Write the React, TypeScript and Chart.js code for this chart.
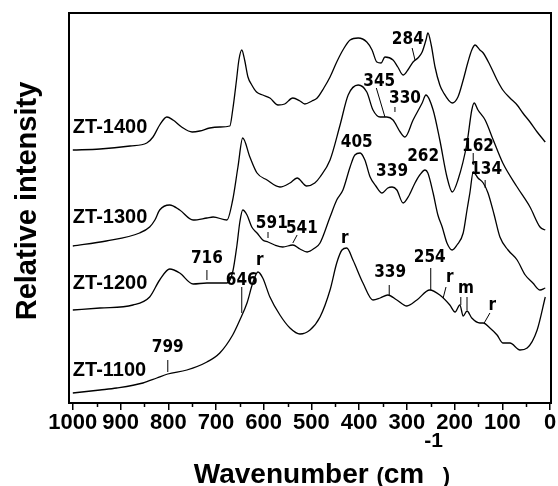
import React, { useEffect, useRef } from "react";
import { Chart, registerables } from "chart.js";

Chart.register(...registerables);

// ---------------- data (wavenumber cm-1, relative intensity a.u.) ----------------
const wn1400 = [1000,943,880,845,832,818,803,790,772,750,734,713,692,671,665,657,652,646,640,633,625,615,602,587,570,556,539,524,514,499,488,474,461,447,434,419,402,384,373,363,354,346,329,319,308,298,287,277,268,260,256,249,241,231,224,205,193,182,172,164,157,147,140,126,111,99,84,69,57,42,27,10];
const int1400 = [253,254,257,260,266,278,286,283,276,271,272,275,276,277,293,323,343,353,343,326,318,311,308,305,298,299,305,302,299,302,305,315,326,341,353,363,365,361,353,341,340,346,343,336,328,333,341,345,351,363,370,358,336,318,311,300,306,323,341,353,358,353,350,338,323,313,305,298,290,281,271,261];

const wn1300 = [1000,930,860,839,828,818,797,776,748,719,706,677,665,654,644,629,614,593,566,545,530,510,493,482,461,440,423,402,384,371,356,342,329,314,304,287,268,260,245,231,216,205,193,174,164,159,151,136,119,99,69,42,21,10];
const int1300 = [157,162,170,176,183,193,198,193,183,185,186,183,203,236,265,246,230,223,216,220,225,217,220,226,243,278,308,318,311,293,286,286,283,271,266,283,300,308,293,263,226,211,223,260,293,300,293,283,263,240,216,196,176,173];

const wn1200 = [1000,943,874,839,818,797,776,748,719,677,665,656,650,644,635,625,614,602,591,577,560,539,524,509,493,482,461,447,434,419,409,398,388,377,365,352,340,331,321,308,296,283,273,262,256,245,235,226,216,205,195,182,174,168,161,151,140,130,117,105,88,69,52,36,21,10];
const int1200 = [93,95,98,106,123,134,130,119,120,120,131,158,181,193,188,176,170,163,161,158,156,158,154,151,155,160,186,203,213,236,248,250,243,226,217,210,215,216,213,200,207,220,228,233,230,210,188,176,160,153,158,170,193,210,231,225,220,210,188,166,153,143,128,120,113,115];

const wn1100 = [1000,943,908,853,824,801,761,719,692,665,650,635,623,612,602,587,566,545,524,503,482,461,447,436,426,413,392,371,356,340,321,300,279,252,231,210,199,189,182,174,164,147,140,126,111,99,84,63,48,27,10];
const int1100 = [10,13,15,20,25,29,33,41,50,68,83,100,120,131,125,106,88,75,69,73,86,113,140,153,155,143,120,103,105,108,103,97,103,113,108,98,91,98,87,92,85,80,80,75,68,60,60,53,55,73,106];

const seriesNames = ["ZT-1400", "ZT-1300", "ZT-1200", "ZT-1100"];
const seriesLabelY = [276, 186, 120, 33];

const xTickValues = [0, 100, 200, 300, 400, 500, 600, 700, 800, 900, 1000];
const xMinorTickValues = [50, 150, 250, 350, 450, 550, 650, 750, 850, 950];

// peak annotations: text, label position (wn, intensity), marker lines [wn1, i1, wn2, i2]
const peakTexts = ["284","345","330","405","339","262","162","134","591","541","716","646","r","799","r","339","254","r","m","r"];
const peakLabelWn = [298,358,304,405,331,266,151,134,583,520,719,646,608,801,430,335,252,210,176,121];
const peakLabelI = [363,321,304,260,231,246,256,233,179,174,144,122,142,55,164,130,145,125,114,97];
const peakLines: number[][][] = [
  [[289,355,283,343]],
  [[364,315,346,286]],
  [[325,296,325,291]],
  [],
  [],
  [],
  [[161,250,161,238]],
  [[136,223,136,215]],
  [[591,171,591,165]],
  [[530,168,539,160]],
  [[719,133,719,123]],
  [[646,116,646,90]],
  [],
  [[801,43,801,31]],
  [],
  [[337,118,337,108]],
  [[250,135,250,113]],
  [[218,116,224,105]],
  [[187,106,187,98],[174,106,174,93]],
  [[126,90,138,80]],
];

const FONT = '"Liberation Sans", Arial, Helvetica, sans-serif';
const NARROW = '"Liberation Sans Narrow", "Arial Narrow", "DejaVu Sans Condensed", "Liberation Sans", sans-serif';

const toPts = (w: number[], v: number[]) => w.map((x, i) => ({ x, y: v[i] }));

const decorPlugin = {
  id: "decor",
  afterDatasetsDraw(chart: any) {
    const { ctx, scales } = chart;
    const xs = scales.x;
    const ys = scales.y;
    ctx.save();
    ctx.strokeStyle = "#000";
    ctx.lineWidth = 1;
    peakLines.forEach((lines) => {
      lines.forEach(([w1, i1, w2, i2]) => {
        ctx.beginPath();
        ctx.moveTo(xs.getPixelForValue(w1), ys.getPixelForValue(i1));
        ctx.lineTo(xs.getPixelForValue(w2), ys.getPixelForValue(i2));
        ctx.stroke();
      });
    });
    ctx.fillStyle = "#000";
    ctx.textAlign = "center";
    ctx.textBaseline = "middle";
    ctx.font = `bold 17px ${NARROW}`;
    peakTexts.forEach((t, i) => {
      ctx.fillText(t, xs.getPixelForValue(peakLabelWn[i]), ys.getPixelForValue(peakLabelI[i]));
    });
    ctx.textAlign = "left";
    ctx.font = `bold 20px ${FONT}`;
    seriesNames.forEach((n, i) => {
      ctx.fillText(n, xs.getPixelForValue(1000), ys.getPixelForValue(seriesLabelY[i]));
    });
    ctx.restore();
  },
  afterDraw(chart: any) {
    const { ctx, chartArea, scales } = chart;
    const xs = scales.x;
    ctx.save();
    ctx.strokeStyle = "#000";
    ctx.lineWidth = 2;
    ctx.strokeRect(chartArea.left, chartArea.top, chartArea.right - chartArea.left, chartArea.bottom - chartArea.top);
    ctx.lineWidth = 1.5;
    xMinorTickValues.forEach((v) => {
      const px = Math.round(xs.getPixelForValue(v)) + 0.5;
      ctx.beginPath();
      ctx.moveTo(px, chartArea.bottom);
      ctx.lineTo(px, chartArea.bottom + 4);
      ctx.stroke();
    });
    ctx.fillStyle = "#000";
    ctx.save();
    ctx.translate(36, 201);
    ctx.rotate(-Math.PI / 2);
    ctx.textAlign = "center";
    ctx.textBaseline = "alphabetic";
    ctx.font = `bold 29px ${FONT}`;
    ctx.fillText("Relative intensity", 0, 0);
    ctx.restore();
    const parts: [string, number, number][] = [
      ["Wavenumber ", 28, 483],
      ["(", 22, 483],
      ["cm", 28, 483],
      ["-1", 21, 447],
      [")", 22, 483],
    ];
    ctx.textAlign = "left";
    ctx.textBaseline = "alphabetic";
    let total = 0;
    parts.forEach(([t, s]) => {
      ctx.font = `bold ${s}px ${FONT}`;
      total += ctx.measureText(t).width;
    });
    let x = 322 - total / 2;
    parts.forEach(([t, s, b]) => {
      ctx.font = `bold ${s}px ${FONT}`;
      ctx.fillText(t, x, b);
      x += ctx.measureText(t).width;
    });
    ctx.restore();
  },
};

export default function App() {
  const ref = useRef<HTMLCanvasElement | null>(null);
  useEffect(() => {
    if (!ref.current) return;
    const mk = (w: number[], v: number[]) => ({
      data: toPts(w, v),
      borderColor: "#000",
      borderWidth: 1.3,
      pointRadius: 0,
      fill: false,
      cubicInterpolationMode: "monotone" as const,
    });
    const chart = new Chart(ref.current, {
      type: "line",
      data: {
        datasets: [
          mk(wn1400, int1400),
          mk(wn1300, int1300),
          mk(wn1200, int1200),
          mk(wn1100, int1100),
        ],
      },
      options: {
        animation: false,
        responsive: false,
        devicePixelRatio: 1,
        layout: { padding: { top: 13, right: 7, left: 0, bottom: 0 } },
        plugins: { legend: { display: false }, tooltip: { enabled: false }, title: { display: false } },
        scales: {
          x: {
            type: "linear",
            reverse: true,
            min: -2,
            max: 1008,
            afterBuildTicks: (s: any) => {
              s.ticks = xTickValues.map((v) => ({ value: v }));
            },
            afterFit: (s: any) => {
              s.height = 83;
            },
            border: { display: false },
            grid: { display: true, drawOnChartArea: false, drawTicks: true, tickLength: 7, color: "#000", lineWidth: 1.5 },
            ticks: {
              color: "#000",
              padding: 0,
              autoSkip: false,
              maxRotation: 0,
              callback: (v: any) => String(v),
              font: { family: FONT, size: 22, weight: "bold" },
            },
          },
          y: {
            type: "linear",
            min: 0,
            max: 390,
            afterFit: (s: any) => {
              s.width = 69;
            },
            border: { display: false },
            grid: { display: false, drawTicks: false },
            ticks: { display: false },
          },
        },
      } as any,
      plugins: [decorPlugin],
    });
    return () => chart.destroy();
  }, []);
  return (
    <div style={{ position: "absolute", left: 0, top: 0, width: 558, height: 486, background: "#fff" }}>
      <canvas ref={ref} width={558} height={486} style={{ width: 558, height: 486, display: "block" }} />
    </div>
  );
}
